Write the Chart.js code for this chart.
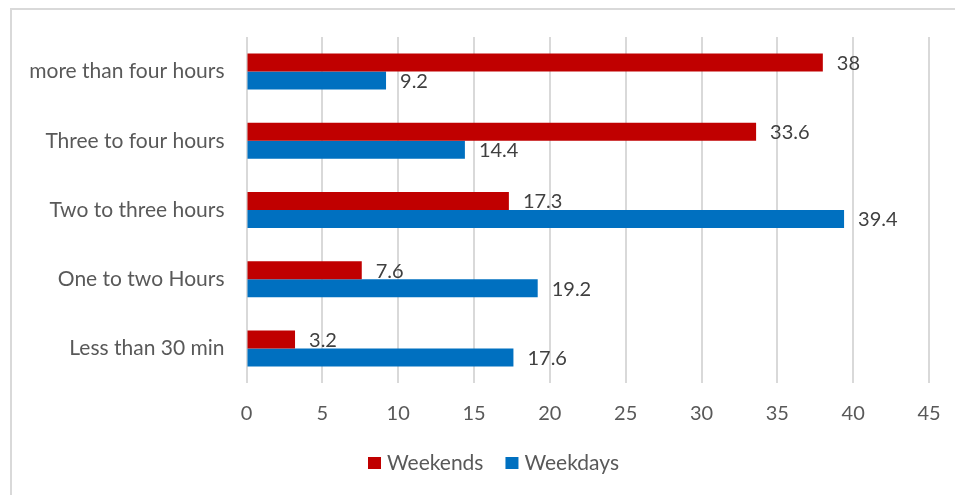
<!DOCTYPE html>
<html>
<head>
<meta charset="utf-8">
<script src="https://cdn.jsdelivr.net/npm/chart.js@4"></script>
<style>
  html, body { margin: 0; padding: 0; background: #fff; overflow: hidden; }
  #frame {
    position: absolute; left: 10px; top: 8px;
    width: 1000px; height: 600px;
    border: 2px solid #d9d9d9;
  }
  #wrap { position: absolute; left: 0; top: 0; width: 955px; height: 495px; }
</style>
</head>
<body>
<div id="frame"></div>
<div id="wrap"><canvas id="chart" width="955" height="495"></canvas></div>
<script>
// -----------------------------
// Data
// -----------------------------
const categories = [
  "more than four hours",
  "Three to four hours",
  "Two to three hours",
  "One to two Hours",
  "Less than 30 min"
]
const weekends = [38, 33.6, 17.3, 7.6, 3.2]
const weekdays = [9.2, 14.4, 39.4, 19.2, 17.6]
const xTicks = [0, 5, 10, 15, 20, 25, 30, 35, 40, 45]

const FONT = "Lato, 'Open Sans', sans-serif"
const TEXT = "#595959"

// -----------------------------
// Plugins: value labels + legend
// -----------------------------
const valueLabels = {
  id: "valueLabels",
  afterDatasetsDraw(chart) {
    const ctx = chart.ctx
    ctx.save()
    ctx.font = "20px " + FONT
    ctx.fillStyle = "#404040"
    ctx.textAlign = "left"
    ctx.textBaseline = "middle"
    chart.data.datasets.forEach((ds, i) => {
      chart.getDatasetMeta(i).data.forEach((bar, j) => {
        ctx.fillText(String(ds.data[j]), bar.x + 14, bar.y + 1)
      })
    })
    ctx.restore()
  }
}

const bottomLegend = {
  id: "bottomLegend",
  afterDraw(chart) {
    const ctx = chart.ctx
    ctx.save()
    ctx.font = "21px " + FONT
    ctx.textBaseline = "middle"
    ctx.textAlign = "left"
    let x = 368
    const y = 463
    chart.data.datasets.forEach(ds => {
      ctx.fillStyle = ds.backgroundColor
      ctx.fillRect(x, y - 6, 13, 12)
      ctx.fillStyle = TEXT
      ctx.fillText(ds.label, x + 19, y)
      x += 19 + ctx.measureText(ds.label).width + 22
    })
    ctx.restore()
  }
}

// -----------------------------
// Chart
// -----------------------------
new Chart(document.getElementById("chart"), {
  type: "bar",
  data: {
    labels: categories,
    datasets: [
      { label: "Weekends", data: weekends, backgroundColor: "#C00000" },
      { label: "Weekdays", data: weekdays, backgroundColor: "#0070C0" }
    ]
  },
  options: {
    indexAxis: "y",
    responsive: false,
    animation: false,
    categoryPercentage: 0.52,
    barPercentage: 1,
    layout: { padding: { left: 0, right: 26, top: 37, bottom: 0 } },
    plugins: {
      legend: { display: false },
      tooltip: { enabled: false }
    },
    scales: {
      x: {
        min: 0,
        max: 45,
        afterBuildTicks: s => { s.ticks = xTicks.map(v => ({ value: v })) },
        afterFit: s => {
          s.height = 112
          s.paddingLeft = 0
          s.paddingRight = 0
        },
        border: { display: false },
        grid: { color: "#d9d9d9", lineWidth: 2, drawTicks: false },
        ticks: { color: TEXT, font: { family: FONT, size: 20 }, padding: 19 }
      },
      y: {
        afterFit: s => { s.width = 246.5 },
        border: { display: false },
        grid: { display: false, drawTicks: false },
        ticks: { color: TEXT, font: { family: FONT, size: 21 }, padding: 22 }
      }
    }
  },
  plugins: [valueLabels, bottomLegend]
})
</script>
</body>
</html>
